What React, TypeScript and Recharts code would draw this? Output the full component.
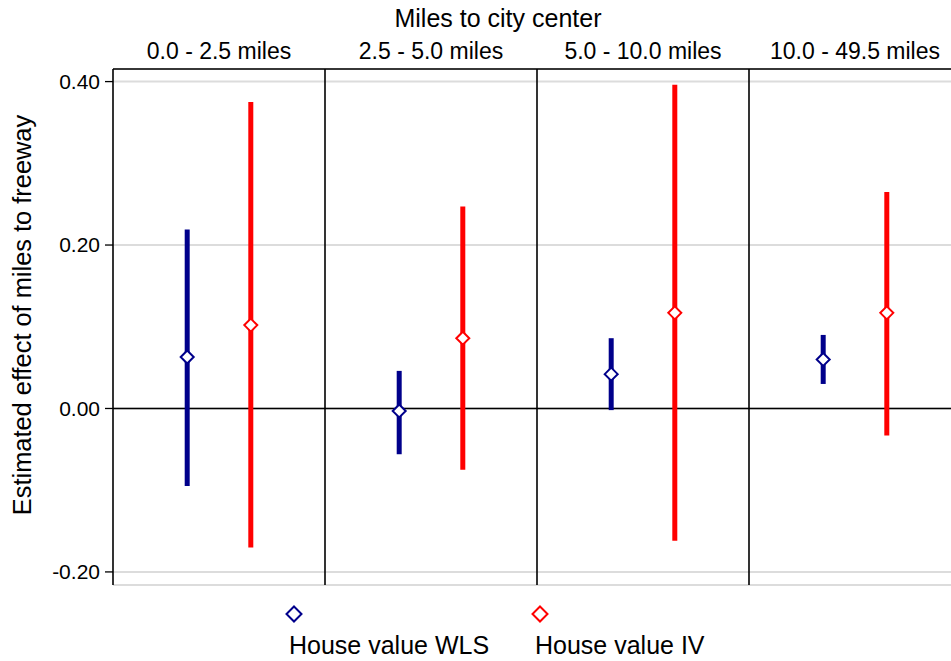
import React from "react";
import {
  ComposedChart,
  Scatter,
  ErrorBar,
  XAxis,
  YAxis,
  CartesianGrid,
  ReferenceLine,
  Customized,
} from "recharts";

// Distance-to-city-center bands, one panel each
const panels = ["0.0 - 2.5 miles", "2.5 - 5.0 miles", "5.0 - 10.0 miles", "10.0 - 49.5 miles"];

// House value WLS: point estimate and confidence interval
const wlsEst = [0.063, -0.003, 0.042, 0.06];
const wlsLow = [-0.095, -0.056, -0.002, 0.03];
const wlsHigh = [0.219, 0.046, 0.086, 0.09];

// House value IV: point estimate and confidence interval
const ivEst = [0.102, 0.086, 0.117, 0.117];
const ivLow = [-0.17, -0.075, -0.162, -0.033];
const ivHigh = [0.375, 0.247, 0.396, 0.265];

const yTicks = [-0.2, 0, 0.2, 0.4];
const yDomain: [number, number] = [-0.216, 0.4154];
const panelCenters = [0.5, 1.5, 2.5, 3.5];
const panelEdges = [1, 2, 3];

const seriesNames = ["House value WLS", "House value IV"];
const NAVY = "#00008B";
const RED = "#FF0000";
const FONT = "'Liberation Sans', Arial, Helvetica, sans-serif";

const build = (est: number[], lo: number[], hi: number[], offset: number) =>
  est.map((v, i) => ({ x: i + offset, y: v, err: [v - lo[i], hi[i] - v] }));

const wlsData = build(wlsEst, wlsLow, wlsHigh, 0.35);
const ivData = build(ivEst, ivLow, ivHigh, 0.65);

const diamond = (color: string) => (p: any) => {
  const { cx, cy } = p;
  const r = 6.5;
  return (
    <path
      d={`M${cx},${cy - r} L${cx + r},${cy} L${cx},${cy + r} L${cx - r},${cy} Z`}
      fill="#fff"
      stroke={color}
      strokeWidth={2}
    />
  );
};

const Titles = () => (
  <g fontFamily={FONT} fill="#000">
    <text x={498} y={27} fontSize={25} textAnchor="middle">
      Miles to city center
    </text>
    <text
      x={31}
      y={315}
      fontSize={25.4}
      textAnchor="middle"
      transform="rotate(-90 31 315)"
    >
      Estimated effect of miles to freeway
    </text>
  </g>
);

const LegendBox = () => {
  const items = [
    { name: seriesNames[0], color: NAVY, mx: 294, tx: 289 },
    { name: seriesNames[1], color: RED, mx: 540, tx: 535 },
  ];
  const r = 7.5;
  return (
    <g fontFamily={FONT}>
      {items.map((it) => (
        <g key={it.name}>
          <path
            d={`M${it.mx},${614 - r} L${it.mx + r},614 L${it.mx},${614 + r} L${it.mx - r},614 Z`}
            fill="#fff"
            stroke={it.color}
            strokeWidth={2}
          />
          <text x={it.tx} y={654} fontSize={25} fill="#000">
            {it.name}
          </text>
        </g>
      ))}
    </g>
  );
};

export default function App() {
  return (
    <div
      style={{
        position: "absolute",
        left: 0,
        top: 0,
        width: 951,
        height: 661,
        overflow: "hidden",
        background: "#fff",
      }}
    >
      <ComposedChart
        width={961}
        height={661}
        margin={{ top: 39, right: 0, bottom: 76, left: 0 }}
      >
        <CartesianGrid vertical={false} stroke="#dcdcdc" strokeWidth={2} />
        <XAxis
          dataKey="x"
          type="number"
          domain={[0, 4]}
          ticks={[]}
          tick={false}
          tickLine={false}
          height={0}
          axisLine={{ stroke: "#000", strokeWidth: 1.6 }}
          allowDataOverflow
        />
        <XAxis
          xAxisId="top"
          orientation="top"
          dataKey="x"
          type="number"
          domain={[0, 4]}
          ticks={panelCenters}
          tickFormatter={(v: number) => panels[Math.floor(v)]}
          tickLine={false}
          tickSize={0}
          tickMargin={10}
          height={30}
          interval={0}
          tick={{ fill: "#000", fontSize: 23, fontFamily: FONT }}
          axisLine={{ stroke: "#000", strokeWidth: 1.6 }}
          allowDataOverflow
        />
        <YAxis
          dataKey="y"
          type="number"
          domain={yDomain}
          ticks={yTicks}
          tickFormatter={(v: number) => v.toFixed(2)}
          width={113}
          tickSize={8}
          tickMargin={5}
          tickLine={{ stroke: "#000", strokeWidth: 1.3 }}
          axisLine={{ stroke: "#000", strokeWidth: 1.6 }}
          tick={{ fill: "#000", fontSize: 21, fontFamily: FONT }}
          allowDataOverflow
        />
        <ReferenceLine y={0} stroke="#000" strokeWidth={1.6} />
        {panelEdges.map((e) => (
          <ReferenceLine key={e} x={e} stroke="#000" strokeWidth={1.6} />
        ))}
        <Scatter
          name={seriesNames[0]}
          data={wlsData}
          fill={NAVY}
          shape={diamond(NAVY)}
          isAnimationActive={false}
        >
          <ErrorBar
            dataKey="err"
            direction="y"
            width={0}
            stroke={NAVY}
            strokeWidth={5}
            isAnimationActive={false}
          />
        </Scatter>
        <Scatter
          name={seriesNames[1]}
          xAxisId="top"
          data={ivData}
          fill={RED}
          shape={diamond(RED)}
          isAnimationActive={false}
        >
          <ErrorBar
            dataKey="err"
            direction="y"
            width={0}
            stroke={RED}
            strokeWidth={5}
            isAnimationActive={false}
          />
        </Scatter>
        <Customized component={Titles} />
        <Customized component={LegendBox} />
      </ComposedChart>
    </div>
  );
}
